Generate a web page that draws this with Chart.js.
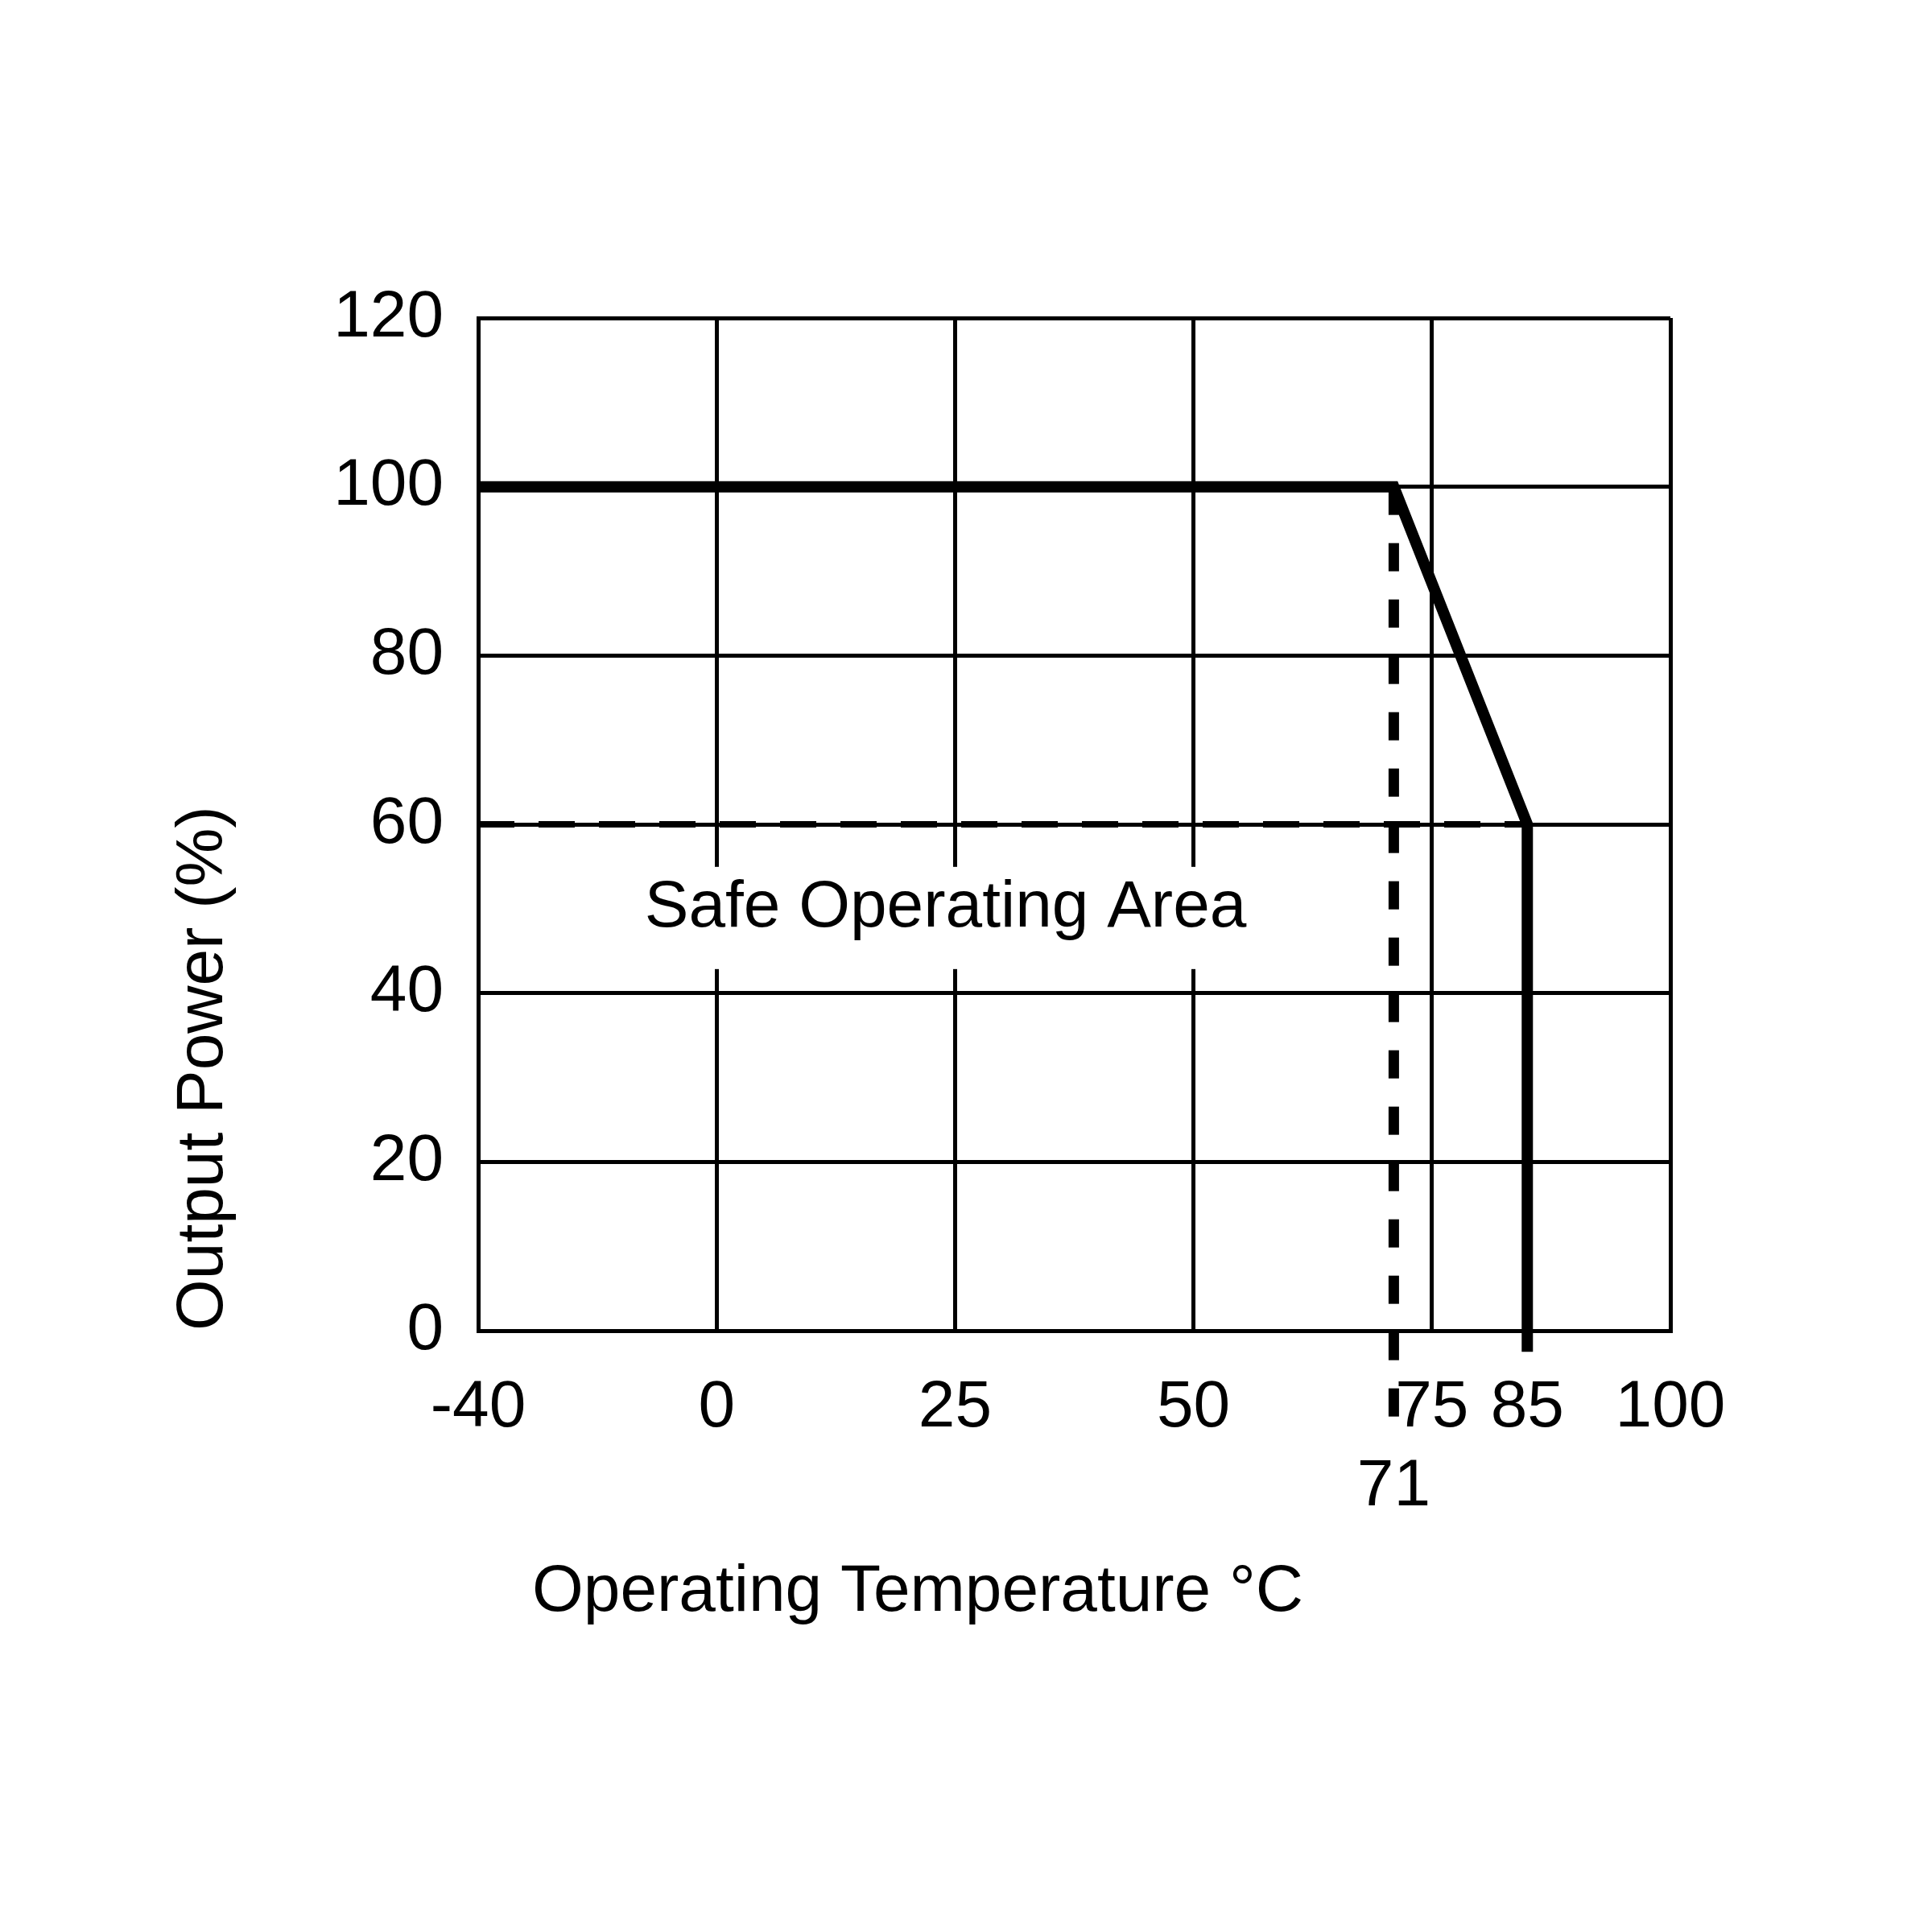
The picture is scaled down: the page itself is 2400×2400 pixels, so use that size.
<!DOCTYPE html>
<html>
<head>
<meta charset="utf-8">
<script src="https://cdn.jsdelivr.net/npm/chart.js@4.4.1/dist/chart.umd.min.js"></script>
<style>
  html, body { margin: 0; background: #fff; }
  canvas { display: block; }
</style>
</head>
<body>
<canvas id="deratingChart" width="2400" height="2400"></canvas>
<script>
// temperatures that get a grid line, and the ones that get a label
const gridTemps = [-40, 0, 25, 50, 75, 100];
const labelTemps = [-40, 0, 25, 50, 71, 75, 85, 100];
const powerTicks = [0, 20, 40, 60, 80, 100, 120];

// derating curve (thick line)
const curveTemp = [-40, 71, 85, 85];
const curvePower = [100, 100, 60, -2.5];
// dashed guide lines
const kneeTemp = [71, 71];
const kneePower = [100, -12.5];
const limitTemp = [-40, 85];
const limitPower = [60, 60];

const areaText = 'Safe Operating Area';
const areaTemp = 24;
const areaPower = 50;

const xTitle = 'Operating Temperature °C';
const yTitle = 'Output Power (%)';

const FONT = '"Liberation Sans", Arial, sans-serif';
const FONT_SIZE = 82;
Chart.defaults.font.family = FONT;
Chart.defaults.font.size = FONT_SIZE;
Chart.defaults.color = '#000';

// the original axis puts each labelled temperature one grid step apart
function tempToDecimal(v) {
    const n = gridTemps.length - 1;
    let i = 0;
    while (i < n - 1 && v > gridTemps[i + 1]) i++;
    const a = gridTemps[i], b = gridTemps[i + 1];
    return (i + (v - a) / (b - a)) / n;
}
function decimalToTemp(d) {
    const n = gridTemps.length - 1;
    const pos = d * n;
    const i = Math.min(Math.max(Math.floor(pos), 0), n - 1);
    const a = gridTemps[i], b = gridTemps[i + 1];
    return a + (pos - i) * (b - a);
}
class GridStepScale extends Chart.LinearScale {
    getPixelForValue(value) {
        if (value === null || value === undefined) return NaN;
        return this.getPixelForDecimal(tempToDecimal(value));
    }
    getValueForPixel(pixel) {
        return decimalToTemp(this.getDecimalForPixel(pixel));
    }
}
GridStepScale.id = 'gridstep';
GridStepScale.defaults = Chart.LinearScale.defaults;
Chart.register(GridStepScale);

const toPoints = (xs, ys) => xs.map((x, i) => ({ x: x, y: ys[i] }));

const areaLabel = {
    id: 'areaLabel',
    beforeDatasetsDraw(chart) {
        const { ctx, scales } = chart;
        const px = scales.x.getPixelForValue(areaTemp);
        const py = scales.y.getPixelForValue(areaPower);
        ctx.save();
        ctx.font = FONT_SIZE + 'px ' + FONT;
        const w = ctx.measureText(areaText).width;
        ctx.fillStyle = '#fff';
        ctx.fillRect(px - w / 2 - 40, py - 52, w + 80, 127);
        ctx.fillStyle = '#000';
        ctx.textAlign = 'center';
        ctx.textBaseline = 'middle';
        ctx.fillText(areaText, px, py);
        ctx.restore();
    }
};

const xTitlePlugin = {
    id: 'xTitle',
    afterDraw(chart) {
        const { ctx, chartArea } = chart;
        ctx.save();
        ctx.font = FONT_SIZE + 'px ' + FONT;
        ctx.fillStyle = '#000';
        ctx.textAlign = 'left';
        ctx.textBaseline = 'middle';
        ctx.fillText(xTitle, chartArea.left + 67, chartArea.bottom + 325);
        ctx.restore();
    }
};

const ctx = document.getElementById('deratingChart');

new Chart(ctx, {
    type: 'line',
    data: {
        datasets: [{
            data: toPoints(curveTemp, curvePower),
            borderColor: '#000',
            borderWidth: 14,
            borderJoinStyle: 'miter',
            borderCapStyle: 'butt',
            pointRadius: 0,
            fill: false,
            clip: false
        }, {
            data: toPoints(kneeTemp, kneePower),
            borderColor: '#000',
            borderWidth: 13,
            borderDash: [35, 35],
            borderCapStyle: 'butt',
            pointRadius: 0,
            fill: false,
            clip: false
        }, {
            data: toPoints(limitTemp, limitPower),
            borderColor: '#000',
            borderWidth: 8,
            borderDash: [45, 30],
            borderCapStyle: 'butt',
            pointRadius: 0,
            fill: false,
            clip: false
        }]
    },
    options: {
        responsive: false,
        animation: false,
        events: [],
        layout: {
            padding: { top: 395, right: 325, bottom: 0, left: 0 }
        },
        plugins: {
            legend: { display: false },
            tooltip: { enabled: false }
        },
        scales: {
            x: {
                type: 'gridstep',
                min: gridTemps[0],
                max: gridTemps[gridTemps.length - 1],
                afterBuildTicks: (scale) => {
                    scale.ticks = labelTemps.map(v => ({ value: v }));
                },
                afterFit: (scale) => { scale.height = 747; },
                ticks: {
                    autoSkip: false,
                    maxRotation: 0,
                    padding: 47,
                    callback: (value) => value === 71 ? ['', '71'] : String(value)
                },
                grid: {
                    drawTicks: false,
                    lineWidth: 5,
                    color: (c) => (c.tick && gridTemps.includes(c.tick.value)) ? '#000' : 'rgba(0,0,0,0)'
                },
                border: { display: true, color: '#000', width: 5 }
            },
            y: {
                min: powerTicks[0],
                max: powerTicks[powerTicks.length - 1],
                afterBuildTicks: (scale) => {
                    scale.ticks = powerTicks.map(v => ({ value: v }));
                },
                afterFit: (scale) => { scale.width = 594; },
                ticks: {
                    padding: 43
                },
                grid: {
                    drawTicks: false,
                    lineWidth: 5,
                    color: '#000'
                },
                border: { display: true, color: '#000', width: 5 },
                title: {
                    display: true,
                    text: yTitle,
                    align: 'start',
                    padding: { top: 204, bottom: 0 },
                    font: { size: FONT_SIZE }
                }
            }
        }
    },
    plugins: [areaLabel, xTitlePlugin]
});
</script>
</body>
</html>
